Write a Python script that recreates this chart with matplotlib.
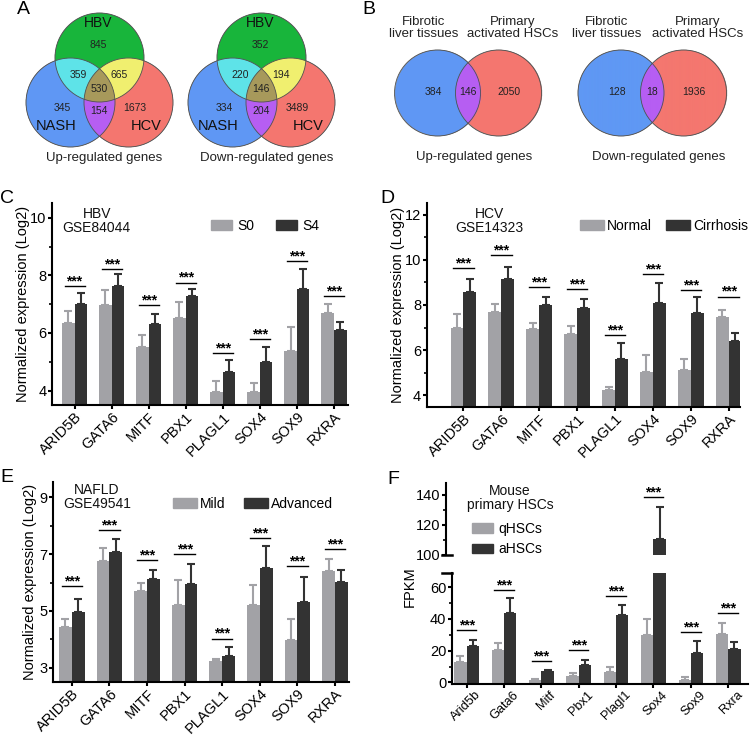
import numpy as np
import matplotlib
matplotlib.use('Agg')
import matplotlib.pyplot as plt
from matplotlib.patches import Patch, Circle
from matplotlib.lines import Line2D
from matplotlib.colors import to_rgba
from matplotlib.ticker import MultipleLocator
from matplotlib.transforms import ScaledTranslation

plt.rcParams['font.family'] = ['Liberation Sans', 'DejaVu Sans']

# ---- data ----
venn3_up = [845, 359, 665, 530, 345, 154, 1673]     # HBV, HBV&NASH, HBV&HCV, all, NASH, NASH&HCV, HCV
venn3_down = [352, 220, 194, 146, 334, 204, 3489]
venn2_up = [384, 146, 2050]                          # fibrotic, both, HSCs
venn2_down = [128, 18, 1936]

genes = ['ARID5B', 'GATA6', 'MITF', 'PBX1', 'PLAGL1', 'SOX4', 'SOX9', 'RXRA']
genes_mouse = ['Arid5b', 'Gata6', 'Mitf', 'Pbx1', 'Plagl1', 'Sox4', 'Sox9', 'Rxra']

c_s0 = [6.34, 6.97, 5.52, 6.52, 3.94, 3.94, 5.37, 6.68]
c_s0_sd = [0.43, 0.53, 0.41, 0.54, 0.38, 0.34, 0.85, 0.31]
c_s4 = [7.00, 7.63, 6.31, 7.27, 4.66, 4.98, 7.52, 6.10]
c_s4_sd = [0.40, 0.40, 0.34, 0.27, 0.39, 0.55, 0.69, 0.27]
c_sig = [7.63, 8.23, 6.97, 7.75, 5.29, 5.79, 8.50, 7.29]
c_yticks = [4, 6, 8, 10]

d_norm = [7.00, 7.67, 6.92, 6.71, 4.22, 5.05, 5.12, 7.45]
d_norm_sd = [0.60, 0.36, 0.29, 0.36, 0.15, 0.73, 0.48, 0.35]
d_cirr = [8.56, 9.16, 8.00, 7.85, 5.60, 8.07, 7.63, 6.41]
d_cirr_sd = [0.60, 0.54, 0.34, 0.42, 0.70, 0.89, 0.74, 0.33]
d_sig = [9.63, 10.20, 8.79, 8.70, 6.67, 9.36, 8.67, 8.37]
d_yticks = [4, 6, 8, 10, 12]

e_mild = [4.44, 6.75, 5.72, 5.22, 3.23, 5.22, 3.99, 6.41]
e_mild_sd = [0.26, 0.47, 0.26, 0.87, 0.09, 0.68, 0.73, 0.43]
e_adv = [4.97, 7.07, 6.12, 5.95, 3.43, 6.52, 5.32, 6.02]
e_adv_sd = [0.44, 0.48, 0.32, 0.71, 0.29, 0.78, 0.87, 0.41]
e_sig = [5.89, 7.85, 6.78, 6.99, 4.03, 7.58, 6.58, 7.19]
e_yticks = [3, 5, 7, 9]

f_q = [12.7, 20.1, 1.4, 3.9, 6.6, 29.7, 1.8, 30.2]
f_q_sd = [3.7, 4.5, 0.9, 1.8, 3.0, 10.3, 1.3, 7.1]
f_a = [23.0, 43.5, 7.2, 11.1, 42.1, 110.5, 18.5, 20.7]
f_a_sd = [3.7, 9.8, 0.6, 3.1, 6.3, 21.3, 7.8, 4.9]
f_sig = [32.8, 58.0, 13.3, 20.3, 54.4, 138.4, 31.8, 43.5]

LIGHT = '#a2a2a6'
DARK = '#333333'

W, H = 750, 735
fig = plt.figure(figsize=(7.5, 7.35), dpi=100)

# background axes in pixel coordinates (y down) for venns and letters
bg = fig.add_axes([0, 0, 1, 1])
bg.set_xlim(0, W)
bg.set_ylim(H, 0)
bg.axis('off')


def px_axes(left, top, right, bottom):
    ax = fig.add_axes([left / W, 1 - bottom / H, (right - left) / W, (bottom - top) / H])
    ax.patch.set_alpha(0)
    return ax


def venn(centers, r, colors, counts, count_xy):
    x0 = min(c[0] for c in centers) - r - 2
    x1 = max(c[0] for c in centers) + r + 2
    y0 = min(c[1] for c in centers) - r - 2
    y1 = max(c[1] for c in centers) + r + 2
    xs = np.arange(x0, x1, 0.25) + 0.125
    ys = np.arange(y0, y1, 0.25) + 0.125
    X, Y = np.meshgrid(xs, ys)
    masks = [((X - cx) ** 2 + (Y - cy) ** 2) <= r * r for cx, cy in centers]
    img = np.zeros(X.shape + (4,))
    for key, col in colors.items():
        m = np.ones(X.shape, bool)
        for inside, mk in zip(key, masks):
            m &= mk if inside else ~mk
        img[m] = to_rgba(col)
    bg.imshow(img, extent=(x0, x1, y1, y0), origin='upper',
              interpolation='antialiased', aspect='auto')
    for cx, cy in centers:
        bg.add_patch(Circle((cx, cy), r, fill=False, ec='#505050', lw=0.6))
    for n, (x, y) in zip(counts, count_xy):
        bg.text(x, y, str(n), ha='center', va='center', fontsize=7.5, color='#222222')


GREEN, BLUE, RED = '#19b53c', '#5f98f4', '#f4776f'
CYAN, YELLOW, PURPLE, OLIVE = '#5ee3e9', '#f1ef6f', '#b65ef3', '#a8995b'
col3 = {(1, 0, 0): GREEN, (0, 1, 0): BLUE, (0, 0, 1): RED, (1, 1, 0): CYAN,
        (1, 0, 1): YELLOW, (0, 1, 1): PURPLE, (1, 1, 1): OLIVE}
col2 = {(1, 0): BLUE, (0, 1): RED, (1, 1): PURPLE}

# panel A
rel3 = [(-1.5, -12.5), (-21.5, 17.5), (19.5, 17.5), (-0.5, 31.5),
        (-37, 50.5), (-0.5, 53.5), (35.5, 50.5)]
for ox, counts, title in [(99.5, venn3_up, 'Up-regulated genes'),
                          (261.5, venn3_down, 'Down-regulated genes')]:
    oy = 57.5
    cents = [(ox, oy), (ox - 29, oy + 45), (ox + 29, oy + 45)]
    venn(cents, 44.5, col3, counts, [(ox + dx, oy + dy) for dx, dy in rel3])
    bg.text(ox - 1.5, oy - 34.5, 'HBV', ha='center', va='center', fontsize=10, color='#111111')
    bg.text(ox - 43.5, oy + 68.5, 'NASH', ha='center', va='center', fontsize=10.5, color='#111111')
    bg.text(ox + 47, oy + 68.5, 'HCV', ha='center', va='center', fontsize=10.5, color='#111111')
    bg.text(ox + 5, oy + 100.5, title, ha='center', va='center', fontsize=9.5, color='#222222')

# panel B
for cb, cr, counts, title in [(437.5, 498.5, venn2_up, 'Up-regulated genes'),
                              (621, 683.5, venn2_down, 'Down-regulated genes')]:
    cy, r = 93, 43
    mid = ((cb + r) + (cr - r)) / 2
    venn([(cb, cy), (cr, cy)], r, col2, counts,
         [(cb - 4, cy - 1), (mid, cy - 1), (cr + 10, cy - 1)])
    bg.text(cb - 14, 28, 'Fibrotic\nliver tissues', ha='center', va='center',
            fontsize=9.5, linespacing=1.08, color='#222222')
    bg.text(cr + 14, 28, 'Primary\nactivated HSCs', ha='center', va='center',
            fontsize=9.5, linespacing=1.08, color='#222222')
    bg.text((cb + cr) / 2 + 6, 157, title, ha='center', va='center', fontsize=9.5, color='#222222')

bg.set_xlim(0, W)
bg.set_ylim(H, 0)

for letter, x, y in [('A', 23, 9), ('B', 369, 9), ('C', 7, 198), ('D', 387, 198),
                     ('E', 7, 477), ('F', 393, 479)]:
    bg.text(x, y, letter, ha='center', va='center', fontsize=14)


def style_axes(ax):
    for s in ['top', 'right']:
        ax.spines[s].set_visible(False)
    for s in ['left', 'bottom']:
        ax.spines[s].set_linewidth(1.5)
    ax.tick_params(axis='both', which='major', length=3, width=1.5, labelsize=10.5, pad=1)
    ax.tick_params(axis='x', which='major', pad=0.5)
    ax.tick_params(axis='y', which='minor', length=2, width=1.2)


def set_xlabels(ax, labels):
    ax.set_xticklabels(labels, rotation=45, ha='right', rotation_mode='anchor', fontsize=9.2)
    shift = ScaledTranslation(6 / 72, 0, fig.dpi_scale_trans)
    for lab in ax.get_xticklabels():
        lab.set_transform(lab.get_transform() + shift)


def draw_bars(ax, x, g1, s1, g2, s2, width, lo):
    n = len(x)
    ax.bar(x - width / 2, np.array(g1) - lo, width, bottom=lo, color=LIGHT, zorder=2)
    ax.bar(x + width / 2, np.array(g2) - lo, width, bottom=lo, color=DARK, zorder=2)
    ax.errorbar(x - width / 2, g1, yerr=[np.zeros(n), s1], fmt='none', ecolor=LIGHT,
                elinewidth=1.5, capsize=3, capthick=1.5, zorder=1)
    ax.errorbar(x + width / 2, g2, yerr=[np.zeros(n), s2], fmt='none', ecolor=DARK,
                elinewidth=1.5, capsize=3, capthick=1.5, zorder=1)


def draw_sig(ax, xs, ys, half=0.27):
    for xi, yi in zip(xs, ys):
        ax.plot([xi - half, xi + half], [yi, yi], color='black', lw=1.0, clip_on=False)
        ax.annotate('***', (xi, yi), xytext=(0, 0.5), textcoords='offset points',
                    ha='center', va='baseline', fontsize=10, fontweight='bold')


def bar_panel(box, labels, g1, s1, g2, s2, sig, ylim, yticks, xlim, leg_names,
              leg_anchor, leg_kw, note, note_xy, ylabel_x, width=0.34):
    ax = px_axes(*box)
    x = np.arange(len(labels))
    draw_bars(ax, x, g1, s1, g2, s2, width, ylim[0])
    draw_sig(ax, x, sig)
    ax.set_xlim(*xlim)
    ax.set_ylim(*ylim)
    ax.set_yticks(yticks)
    ax.set_yticks([t + 1 for t in yticks[:-1]], minor=True)
    ax.set_xticks(x)
    set_xlabels(ax, labels)
    style_axes(ax)
    ax.set_ylabel('Normalized expression (Log2)', fontsize=10.5)
    ax.yaxis.set_label_coords((ylabel_x - box[0]) / (box[2] - box[0]), 0.5)
    handles = [Patch(color=LIGHT, label=leg_names[0]), Patch(color=DARK, label=leg_names[1])]
    ax.legend(handles=handles, ncol=2, frameon=False, loc='upper left',
              bbox_to_anchor=(leg_anchor[0] / W, 1 - leg_anchor[1] / H),
              bbox_transform=fig.transFigure, borderpad=0, borderaxespad=0,
              handleheight=0.7, fontsize=10, **leg_kw)
    bg.text(note_xy[0], note_xy[1], note, ha='center', va='center', fontsize=10,
            linespacing=1.05, color='#111111')
    return ax


bar_panel((52.3, 203.3, 348, 405), genes, c_s0, c_s0_sd, c_s4, c_s4_sd, c_sig,
          (3.5, 10.5), c_yticks, (-0.6, 7.38), ['S0', 'S4'], (210.7, 219),
          dict(handlelength=1.5, handletextpad=0.4, columnspacing=1.6),
          'HBV\nGSE84044', (96.7, 221), 30.5)

bar_panel((426.7, 203.3, 740, 406.7), genes, d_norm, d_norm_sd, d_cirr, d_cirr_sd, d_sig,
          (3.5, 12.5), d_yticks, (-0.97, 7.3), ['Normal', 'Cirrhosis'], (580, 219),
          dict(handlelength=1.7, handletextpad=0.25, columnspacing=1.0),
          'HCV\nGSE14323', (489, 221), 405)

bar_panel((53.3, 481.7, 349, 682), genes, e_mild, e_mild_sd, e_adv, e_adv_sd, e_sig,
          (2.5, 9.55), e_yticks, (-0.49, 7.37), ['Mild', 'Advanced'], (173, 497),
          dict(handlelength=1.7, handletextpad=0.25, columnspacing=1.35),
          'NAFLD\nGSE49541', (96.7, 497), 37)

# panel F: broken axis
xf = np.arange(len(genes_mouse))
wf = 0.33
ax_lo = px_axes(451.7, 572.7, 748, 684)
ax_hi = px_axes(451.7, 482.7, 748, 555)
for ax, ylim, major in [(ax_lo, (-1, 69), 20), (ax_hi, (100, 148.2), 20)]:
    draw_bars(ax, xf, f_q, f_q_sd, f_a, f_a_sd, wf, -1)
    ax.set_xlim(-0.4, 7.53)
    ax.set_ylim(*ylim)
    ax.yaxis.set_major_locator(MultipleLocator(major))
    ax.yaxis.set_minor_locator(MultipleLocator(major / 2))
    style_axes(ax)
for xi, yi in zip(xf, f_sig):
    draw_sig(ax_hi if yi > 100 else ax_lo, [xi], [yi], half=0.26)
ax_lo.set_xticks(xf)
set_xlabels(ax_lo, genes_mouse)
ax_hi.spines['bottom'].set_visible(False)
ax_hi.tick_params(axis='x', which='both', bottom=False, labelbottom=False)
ax_hi.spines['left'].set_position(('outward', 4))
for yb in [555, 572.7]:
    fig.add_artist(Line2D([441.7, 451.7], [yb, yb], color='black', lw=1.8,
                          transform=bg.transData))
bg.text(410, 587, 'FPKM', rotation=90, ha='center', va='center', fontsize=10.5)
bg.text(510, 498, 'Mouse\nprimary HSCs', ha='center', va='center', fontsize=10,
        linespacing=1.05, color='#111111')
ax_hi.legend(handles=[Patch(color=LIGHT, label='qHSCs'), Patch(color=DARK, label='aHSCs')],
             frameon=False, loc='upper left', bbox_to_anchor=(471.7 / W, 1 - 522 / H),
             bbox_transform=fig.transFigure, borderpad=0, borderaxespad=0,
             handlelength=1.5, handleheight=0.68, handletextpad=0.4,
             labelspacing=0.45, fontsize=10)

fig.savefig('out.png', dpi=100)
